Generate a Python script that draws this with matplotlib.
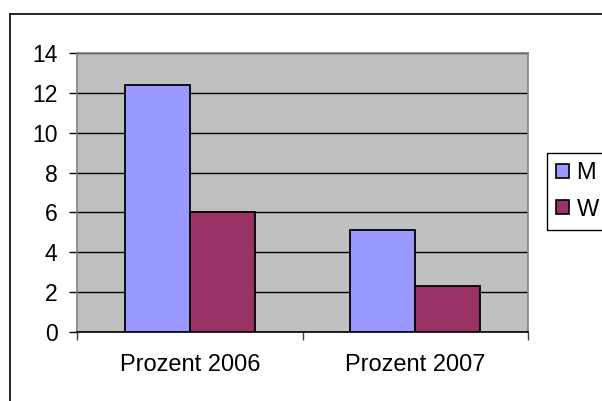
import matplotlib
matplotlib.use("Agg")
import matplotlib.pyplot as plt
import numpy as np
from matplotlib.lines import Line2D
from matplotlib.patches import Patch

plt.rcParams["font.family"] = ["Liberation Sans", "DejaVu Sans"]

# data
categories = ["Prozent 2006", "Prozent 2007"]
series_names = ["M", "W"]
m_values = [12.4, 5.1]
w_values = [6.0, 2.3]
colors = ["#9999FF", "#993366"]

W, H = 602, 401
fig = plt.figure(figsize=(W / 100, H / 100), dpi=100)

# outer chart border (runs off the right and bottom edge)
fig.add_artist(Line2D([10 / W, 1.0], [1 - 14 / H, 1 - 14 / H], color="black", lw=1.2))
fig.add_artist(Line2D([10 / W, 10 / W], [0.0, 1 - 14 / H], color="black", lw=1.2))

ax = fig.add_axes([77 / W, (H - 332) / H, 451 / W, 279 / H])
ax.set_facecolor("#C0C0C0")

x = np.arange(len(categories))
bw = 0.288
ax.bar(x - bw / 2, m_values, bw, color=colors[0], edgecolor="black", lw=1.3, zorder=3)
ax.bar(x + bw / 2, w_values, bw, color=colors[1], edgecolor="black", lw=1.3, zorder=3)

ax.set_xlim(-0.5, len(categories) - 0.5)
ax.set_ylim(0, 14)
ax.set_yticks(range(0, 15, 2))
ax.yaxis.grid(True, color="black", lw=1)
ax.set_axisbelow(True)

ax.set_xticks(x)
ax.set_xticklabels(categories)
ax.set_xticks([-0.5, 0.5, 1.5], minor=True)
ax.tick_params(axis="x", which="major", length=0, pad=16, labelsize=17)
ax.tick_params(axis="x", which="minor", length=6, width=1, color="#404040", direction="out")
ax.tick_params(axis="y", length=6, width=1, pad=8, labelsize=16.5, direction="out")

for side in ["top", "right", "left"]:
    ax.spines[side].set_color("#808080")
    ax.spines[side].set_linewidth(1.2)
ax.spines["bottom"].set_color("black")
ax.spines["bottom"].set_linewidth(1.2)

handles = [Patch(facecolor=c, edgecolor="black", lw=1.2) for c in colors]
fig.legend(handles, series_names, loc="upper left",
           bbox_to_anchor=(547 / W, 1 - 153 / H), fontsize=17,
           frameon=True, fancybox=False, edgecolor="black", framealpha=1,
           handlelength=0.55, handleheight=0.55, handletextpad=0.3,
           labelspacing=0.6, borderpad=0.4, borderaxespad=0)

fig.savefig("out.png", dpi=100)
